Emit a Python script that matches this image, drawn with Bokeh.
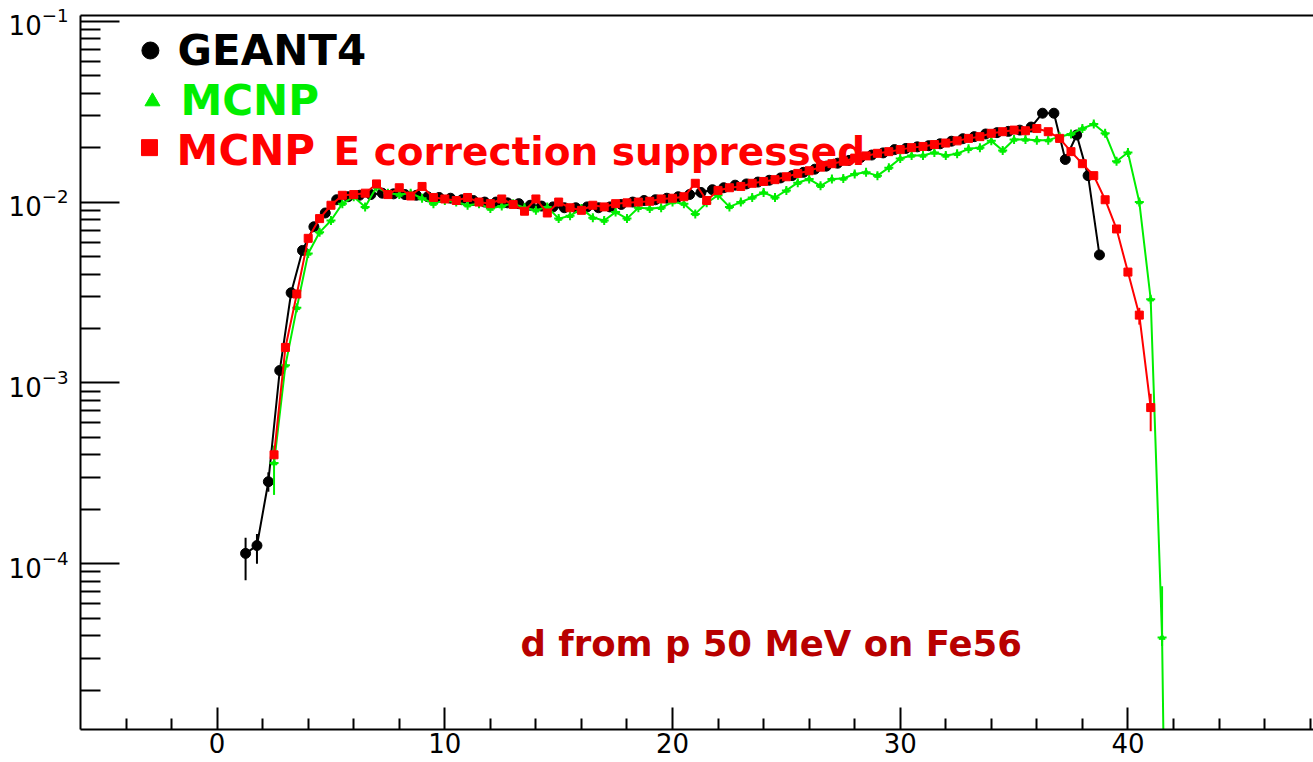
import numpy as np
from bokeh.plotting import figure
from bokeh.models import FixedTicker, Range1d, Label, LinearAxis
from bokeh.embed import file_html
from bokeh.resources import INLINE

# ---------------- data ----------------
geant4_x = np.arange(1.25, 38.76, 0.5)          # 76 bins, 0.5 MeV wide
geant4_y = [
    1.14e-4, 1.26e-4, 2.84e-4, 1.17e-3, 3.15e-3, 5.4e-3, 7.3e-3, 8.7e-3, 1.03e-2, 1.07e-2,
    1.09e-2, 1.10e-2, 1.12e-2, 1.11e-2, 1.10e-2, 1.09e-2, 1.07e-2, 1.06e-2, 1.05e-2, 1.03e-2,
    1.02e-2, 1.00e-2, 1.00e-2, 9.9e-3, 9.8e-3, 9.6e-3, 9.5e-3, 9.4e-3, 9.3e-3, 9.3e-3,
    9.4e-3, 9.3e-3, 9.4e-3, 9.7e-3, 1.00e-2, 1.02e-2, 1.03e-2, 1.05e-2, 1.07e-2, 1.10e-2,
    1.13e-2, 1.17e-2, 1.20e-2, 1.24e-2, 1.26e-2, 1.29e-2, 1.32e-2, 1.36e-2, 1.40e-2, 1.46e-2,
    1.52e-2, 1.58e-2, 1.64e-2, 1.70e-2, 1.76e-2, 1.82e-2, 1.87e-2, 1.95e-2, 1.98e-2, 2.02e-2,
    2.05e-2, 2.10e-2, 2.17e-2, 2.24e-2, 2.30e-2, 2.38e-2, 2.42e-2, 2.46e-2, 2.50e-2, 2.60e-2,
    3.10e-2, 3.10e-2, 1.72e-2, 2.35e-2, 1.40e-2, 5.1e-3,
]
geant4_err_x = [1.25, 1.75, 2.25]
geant4_err_lo = [8.1e-5, 1.0e-4, 2.5e-4]
geant4_err_hi = [1.39e-4, 1.46e-4, 3.2e-4]

mcnp_x = np.arange(2.5, 42.01, 0.5)              # 80 bins
mcnp_y = [
    3.6e-4, 1.25e-3, 2.6e-3, 5.2e-3, 6.8e-3, 7.9e-3, 9.8e-3, 1.07e-2, 9.4e-3, 1.21e-2,
    1.12e-2, 1.10e-2, 1.12e-2, 1.05e-2, 9.8e-3, 1.02e-2, 1.00e-2, 9.6e-3, 9.8e-3, 9.2e-3,
    9.5e-3, 9.8e-3, 9.3e-3, 9.0e-3, 9.4e-3, 8.1e-3, 8.4e-3, 9.2e-3, 8.2e-3, 7.9e-3,
    8.8e-3, 8.1e-3, 9.3e-3, 9.2e-3, 9.3e-3, 1.0e-2, 9.8e-3, 8.6e-3, 9.9e-3, 1.09e-2,
    9.4e-3, 1.0e-2, 1.06e-2, 1.13e-2, 1.06e-2, 1.16e-2, 1.28e-2, 1.34e-2, 1.23e-2, 1.34e-2,
    1.35e-2, 1.43e-2, 1.46e-2, 1.40e-2, 1.55e-2, 1.74e-2, 1.81e-2, 1.81e-2, 1.88e-2, 1.81e-2,
    1.85e-2, 1.97e-2, 2.0e-2, 2.18e-2, 1.93e-2, 2.22e-2, 2.22e-2, 2.2e-2, 2.2e-2, 2.3e-2,
    2.38e-2, 2.55e-2, 2.7e-2, 2.4e-2, 1.68e-2, 1.88e-2, 1.0e-2, 2.9e-3, 3.9e-5, 1e-9,
]
mcnp_err_x = [2.5, 41.5]
mcnp_err_lo = [2.4e-4, 3.5e-5]
mcnp_err_hi = [4.5e-4, 7.5e-5]

mcnp_sup_x = np.arange(2.5, 41.01, 0.5)          # 78 bins
mcnp_sup_y = [
    4.0e-4, 1.57e-3, 3.1e-3, 6.3e-3, 8.1e-3, 9.6e-3, 1.09e-2, 1.10e-2, 1.12e-2, 1.26e-2,
    1.10e-2, 1.20e-2, 1.08e-2, 1.22e-2, 1.06e-2, 1.04e-2, 1.02e-2, 1.06e-2, 1.00e-2, 9.8e-3,
    1.04e-2, 9.7e-3, 8.9e-3, 1.04e-2, 8.7e-3, 1.00e-2, 9.3e-3, 9.0e-3, 9.6e-3, 9.4e-3,
    9.8e-3, 9.9e-3, 1.00e-2, 1.01e-2, 1.04e-2, 1.05e-2, 1.07e-2, 1.27e-2, 1.02e-2, 1.16e-2,
    1.20e-2, 1.22e-2, 1.27e-2, 1.30e-2, 1.33e-2, 1.38e-2, 1.44e-2, 1.49e-2, 1.56e-2, 1.63e-2,
    1.68e-2, 1.75e-2, 1.80e-2, 1.86e-2, 1.90e-2, 1.95e-2, 2.00e-2, 2.03e-2, 2.08e-2, 2.12e-2,
    2.18e-2, 2.25e-2, 2.30e-2, 2.40e-2, 2.45e-2, 2.50e-2, 2.48e-2, 2.55e-2, 2.45e-2, 2.25e-2,
    1.90e-2, 1.63e-2, 1.40e-2, 1.03e-2, 7.1e-3, 4.1e-3, 2.37e-3, 7.3e-4,
]
mcnp_sup_err_x = [40.5, 41.0]
mcnp_sup_err_lo = [2.1e-3, 5.4e-4]
mcnp_sup_err_hi = [2.6e-3, 8.7e-4]

x_major_ticks = [0, 10, 20, 30, 40]
x_minor_ticks = [-4, -2, 2, 4, 6, 8, 12, 14, 16, 18, 22, 24, 26, 28, 32, 34, 36, 38,
                 42, 44, 46, 48]
y_major_ticks = [1e-4, 1e-3, 1e-2, 1e-1]
y_minor_ticks = [2e-5, 3e-5, 4e-5, 5e-5, 6e-5, 7e-5, 8e-5, 9e-5,
                 2e-4, 3e-4, 4e-4, 5e-4, 6e-4, 7e-4, 8e-4, 9e-4,
                 2e-3, 3e-3, 4e-3, 5e-3, 6e-3, 7e-3, 8e-3, 9e-3,
                 2e-2, 3e-2, 4e-2, 5e-2, 6e-2, 7e-2, 8e-2, 9e-2]

BLACK = "#000000"
GREEN = "#00ee00"
RED = "#ff0000"
DARKRED = "#b80000"
FONT = "DejaVu Sans"

# ---------------- figure ----------------
p = figure(width=1313, height=762,
           x_range=Range1d(-6.0, 48.15), y_range=Range1d(1.21e-5, 0.1076),
           y_axis_type="log", output_backend="svg", toolbar_location=None,
           min_border_left=80, min_border_right=0, min_border_top=15, min_border_bottom=33)
p.background_fill_color = "white"
p.border_fill_color = "white"
p.outline_line_color = None
p.xgrid.visible = False
p.ygrid.visible = False

p.xaxis.ticker = FixedTicker(ticks=x_major_ticks, minor_ticks=x_minor_ticks)
p.yaxis.ticker = FixedTicker(ticks=y_major_ticks, minor_ticks=y_minor_ticks)
for ax in (p.xaxis, p.yaxis):
    ax.axis_line_width = 2
    ax.axis_line_color = "black"
    ax.major_tick_line_width = 2
    ax.minor_tick_line_width = 2
    ax.major_tick_out = 0
    ax.minor_tick_out = 0
    ax.major_label_text_font = FONT
    ax.major_label_text_font_size = "26px"
    ax.major_label_text_color = "black"
p.xaxis.major_tick_in = 22
p.xaxis.minor_tick_in = 11
p.xaxis.major_label_standoff = 3
p.yaxis.major_tick_in = 39
p.yaxis.minor_tick_in = 20
p.yaxis.major_label_standoff = 12

top = LinearAxis(ticker=FixedTicker(ticks=[]), axis_line_width=2,
                 major_tick_in=0, major_tick_out=0, minor_tick_in=0, minor_tick_out=0,
                 major_label_text_font_size="0px")
p.add_layout(top, "above")

# ---------------- series ----------------
# GEANT4
p.line(geant4_x, geant4_y, line_color=BLACK, line_width=2)
p.segment(x0=geant4_err_x, y0=geant4_err_lo, x1=geant4_err_x, y1=geant4_err_hi,
          line_color=BLACK, line_width=2)
p.scatter(geant4_x, geant4_y, marker="circle", size=10, fill_color=BLACK, line_color=BLACK)

# MCNP
p.line(mcnp_x, mcnp_y, line_color=GREEN, line_width=2)
p.segment(x0=mcnp_err_x, y0=mcnp_err_lo, x1=mcnp_err_x, y1=mcnp_err_hi,
          line_color=GREEN, line_width=2)
p.scatter(mcnp_x, mcnp_y, marker="cross", size=9, line_color=GREEN, line_width=2)
p.scatter(mcnp_x, mcnp_y, marker="triangle", size=6, fill_color=GREEN, line_color=GREEN)

# MCNP E correction suppressed
p.line(mcnp_sup_x, mcnp_sup_y, line_color=RED, line_width=2)
p.segment(x0=mcnp_sup_err_x, y0=mcnp_sup_err_lo, x1=mcnp_sup_err_x, y1=mcnp_sup_err_hi,
          line_color=RED, line_width=2)
p.scatter(mcnp_sup_x, mcnp_sup_y, marker="square", size=8, fill_color=RED, line_color=RED)

# ---------------- legend (drawn by hand) ----------------
p.scatter([-2.93], [0.0689], marker="circle", size=17, fill_color=BLACK, line_color=BLACK)
p.scatter([-2.84], [0.0360], marker="triangle", size=15, fill_color=GREEN, line_color=GREEN)
p.scatter([-2.97], [0.0200], marker="square", size=16, fill_color=RED, line_color=RED)

def lab(x, y, text, color, size):
    p.add_layout(Label(x=x, y=y, text=text, text_color=color, text_font=FONT,
                       text_font_style="bold", text_font_size=size,
                       text_baseline="middle", text_align="left"))

lab(-1.74, 0.0689, "GEANT4", BLACK, "42px")
lab(-1.61, 0.0364, "MCNP", GREEN, "42px")
lab(-1.78, 0.0193, "MCNP", RED, "42px")
lab(5.11, 0.0190, "E correction suppressed", RED, "39px")
lab(13.32, 3.62e-5, "d from p 50 MeV on Fe56", DARKRED, "35.5px")

open("out.html", "w").write(file_html(p, INLINE))
